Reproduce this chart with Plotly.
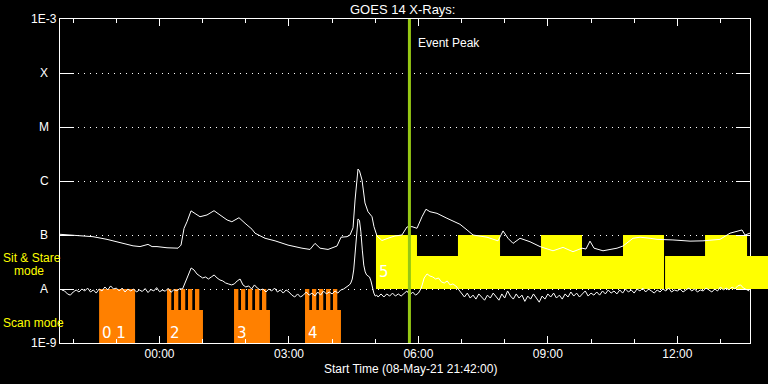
import numpy as np
import pandas as pd
import plotly.graph_objects as go

DAY0 = pd.Timestamp("2021-05-09 00:00:00")

# ---------------- data ----------------
# GOES 14 long channel (1-8 A): minutes after 00:00 UT 09-May-21, flux in nW m^-2
long_min = [-138.4, -110.5, -92.5, -73, -54.9, -36.8, -27.1, -16, -10.4, -3.5,
            10.4, 25.7, 29.9, 34.1, 38.2, 43.8, 49.4, 56.3, 66, 75.8,
            84.1, 93.9, 100.6, 110.5, 118.9, 128.6, 132.8, 146.7, 160.6, 178.7,
            198.1, 209.3, 216.2, 223.2, 234.3, 246.8, 252.4, 260.7, 264.9, 269.1,
            271.9, 276, 278.1, 281.6, 285.7, 289.9, 295.5, 298.2, 302.4, 309.3,
            317.7, 327.4, 337.1, 344.1, 351, 358, 365, 370.5, 376.1, 385.8,
            399.7, 410.9, 417.8, 427.6, 436, 455.4, 470.7, 477.7, 484.6, 491.6,
            501.3, 515.2, 529.1, 547.2, 561.1, 575, 587.5, 593, 598.6, 604.2,
            616.7, 636.2, 644.5, 658.4, 668.2, 682.1, 691.8, 714, 737.7, 755.7,
            779.4, 793.3, 804.4, 810, 814.2, 821]
long_nW = [103, 97, 93, 83, 72, 63, 61, 67, 61, 61,
           58, 57, 65, 133, 176, 280, 250, 218, 235, 282,
           235, 190, 176, 209, 165, 128, 108, 87, 78, 65,
           57, 54, 70, 57, 54, 62.5, 91, 93, 100, 136,
           445, 1667, 1531, 1044, 392, 270, 218, 143, 96, 79,
           87, 96, 100, 141, 143, 133, 218, 300, 270, 252,
           204, 176, 158, 124, 100, 91, 78, 119, 87, 70,
           87, 75, 61, 51, 59, 49, 57, 55, 77, 57,
           51, 57, 62.5, 87, 91, 87, 83, 81, 77, 78,
           83, 108, 119, 124, 100, 108]

# GOES 14 short channel (0.5-4 A): sample times (minutes) and flux in nW m^-2
short_min = list(range(-136, 260, 4)) + list(range(260, 306, 2)) + list(range(308, 824, 4))
short_nW = [
    # 21:44 - 00:28
    9.6, 9.2, 8.1, 7.7, 8.8, 9.6, 8.8, 10, 9.2, 10.4, 8.8, 9.6, 8.4, 10, 9.2,
    10.9, 9.6, 11.4, 10, 10.4, 9.2, 10.4, 8.8, 10, 9.2, 10, 8.8,
    9.6, 9.0, 10.2, 8.6, 9.8, 9.2, 10.6, 8.9, 9.5, 9.1, 10.3, 8.7, 9.7, 9.3, 10.1,
    # 00:32 - 02:20
    10, 13.5, 19, 24.5, 22.5, 19, 17.4, 16, 16.7, 15.3, 16.7, 18.2, 16, 14.7,
    14.1, 12.9, 12.4, 11.9, 12.4, 14.1, 15.3, 11.9, 10.9, 11.4, 10, 11.9, 10.4, 9.6,
    # 02:24 - 04:16
    10, 8.8, 10, 9.2, 10.4, 8.8, 9.6, 8.4, 9.6, 8.8, 7.7, 7.1, 8.1, 7.1, 7.7,
    8.8, 7.7, 8.4, 7.4, 8.8, 7.7, 9.2, 8.1, 8.8, 8.1, 9.2, 8.4, 9.6, 10,
    # 04:20 - 05:04 (2-min)
    10.9, 11.4, 11.9, 12.9, 15.3, 22.5, 52.5, 114, 198, 187, 114, 52.5,
    27.7, 20.7, 18.2, 17.4, 16.7, 14.1, 10, 8.4, 7.4, 7.7, 7.1,
    # 05:08 - 06:00
    8.1, 7.1, 8.1, 7.4, 8.4, 7.4, 8.1, 7.4, 8.4, 9.2, 7.7, 8.8, 7.7, 8.4,
    # 06:04 - 06:52
    10.4, 16, 19, 17.4, 16.7, 15.3, 16, 13.5, 12.9, 14.1, 11.9, 12.4, 11.4,
    # 06:56 - 13:40
    9.6, 8.1, 7.1, 8.4, 6.8, 7.7, 6.5, 8.1, 7.1, 6.2,
    7.7, 6.8, 8.4, 7.1, 6.2, 8.1, 6.8, 9.2, 7.4, 6.5,
    8.1, 6.8, 7.7, 5.9, 7.4, 6.5, 8.1, 6.8, 5.7, 7.4,
    6.5, 8.1, 7.1, 8.4, 6.8, 7.7, 6.5, 8.1, 7.1, 8.8,
    7.4, 8.4, 7.1, 8.1, 9.2, 7.4, 8.4, 7.7, 8.8, 7.7,
    9.2, 8.1, 9.6, 8.4, 9.2, 8.1, 9.6, 8.4, 10, 8.8,
    9.6, 8.4, 10, 9.2, 10.4, 8.8, 10, 9.2, 8.4, 9.6,
    8.8, 10, 9.2, 10.4, 8.8, 9.6, 9.2, 10, 8.8, 9.6,
    10.4, 9.2, 10, 8.8, 9.6, 9.2, 10.4, 9.6, 8.8, 10,
    9.2, 10.9, 9.6, 10.4, 9.6, 10.9, 10, 11.4, 11.9, 10.4,
    9.6, 9.2,
]

# Y tick levels and labels
y_tick_vals = [1e-9, 1e-8, 1e-7, 1e-6, 1e-5, 1e-4, 1e-3]
y_tick_text = ["1E-9", "A", "B", "C", "M", "X", "1E-3"]

# Scan mode blocks (start minute, duration, full block or comb)
scan_start = [-84, 10.4, 103.6, 202.3]
scan_dur = [50, 50, 50, 50]
scan_full = [True, False, False, False]
scan_label = ["0 1", "2", "3", "4"]
tooth_offset = [0, 9.7, 19.4, 29.2, 38.9]
tooth_width = 6
scan_base, scan_low, scan_top = 1e-9, 4.08e-9, 1e-8

# Sit & Stare blocks
ss_start = [301, 358, 415, 473.5, 530.5, 587.5, 644.5, 703, 758.6, 817]
ss_end = [358, 415, 473.5, 530.5, 587.5, 644.5, 701.5, 758.6, 817, 880]
ss_top = [1e-7, 4.08e-8, 1e-7, 4.08e-8, 1e-7, 4.08e-8, 1e-7, 4.08e-8, 1e-7, 4.08e-8]
ss_base = 1e-8
ss_label = "5"

peak_min = 347.5
x_range_min = [-138.4, 821.1]

# ---------------- helpers ----------------
def T(m):
    return DAY0 + pd.Timedelta(minutes=float(m))

def rects(starts, ends, bottoms, tops):
    xs, ys = [], []
    for a, b, lo, hi in zip(starts, ends, bottoms, tops):
        xs += [T(a), T(a), T(b), T(b), T(a), None]
        ys += [lo, hi, hi, lo, lo, None]
    return xs, ys

# scan polygons
sc_s, sc_e, sc_lo, sc_hi = [], [], [], []
for s, d, full in zip(scan_start, scan_dur, scan_full):
    if full:
        sc_s.append(s); sc_e.append(s + d); sc_lo.append(scan_base); sc_hi.append(scan_top)
    else:
        sc_s.append(s); sc_e.append(s + d); sc_lo.append(scan_base); sc_hi.append(scan_low)
        for o in tooth_offset:
            sc_s.append(s + o); sc_e.append(s + o + tooth_width)
            sc_lo.append(scan_base); sc_hi.append(scan_top)
scan_x, scan_y = rects(sc_s, sc_e, sc_lo, sc_hi)
ss_x, ss_y = rects(ss_start, ss_end, [ss_base] * len(ss_start), ss_top)

FONT = "Liberation Sans"
WHITE = "#ffffff"
YEL = "#ffff00"
ORANGE = "#ff8000"

fig = go.Figure()
fig.add_trace(go.Scatter(x=ss_x, y=ss_y, mode="lines", fill="toself",
                         fillcolor=YEL, line=dict(width=0, color=YEL)))
fig.add_trace(go.Scatter(x=scan_x, y=scan_y, mode="lines", fill="toself",
                         fillcolor=ORANGE, line=dict(width=0, color=ORANGE)))
fig.add_trace(go.Scatter(x=[T(m) for m in long_min], y=[v * 1e-9 for v in long_nW],
                         mode="lines", line=dict(color=WHITE, width=1)))
fig.add_trace(go.Scatter(x=[T(m) for m in short_min], y=[v * 1e-9 for v in short_nW],
                         mode="lines", line=dict(color=WHITE, width=1)))
fig.add_trace(go.Scatter(x=[T(peak_min), T(peak_min)], y=[y_tick_vals[0], y_tick_vals[-1]],
                         mode="lines", line=dict(color="#96c814", width=3)))

ann = []
lo_log, hi_log = np.log10(y_tick_vals[0]), np.log10(y_tick_vals[-1])
for v, txt in zip(y_tick_vals, y_tick_text):
    ann.append(dict(x=-16 / 690, xref="paper", y=np.log10(v), yref="y", text=txt,
                    showarrow=False, xanchor="center", yanchor="middle",
                    font=dict(family=FONT, size=12, color=WHITE)))
for s, lab in zip(scan_start, scan_label):
    ann.append(dict(x=T(s), xref="x", y=10 / 324, yref="paper", text=lab, xshift=1,
                    showarrow=False, xanchor="left", yanchor="middle",
                    font=dict(family="DejaVu Sans", size=15, color=WHITE)))
ann.append(dict(x=T(ss_start[0]), xref="x", y=71 / 324, yref="paper", text=ss_label, xshift=1,
                showarrow=False, xanchor="left", yanchor="middle",
                font=dict(family="DejaVu Sans", size=15, color=WHITE)))
ann.append(dict(x=T(peak_min), xref="x", y=300 / 324, yref="paper", text="Event Peak", xshift=7,
                showarrow=False, xanchor="left", yanchor="middle",
                font=dict(family=FONT, size=12, color=WHITE)))
ann.append(dict(x=-59 / 690, xref="paper", y=85 / 324, yref="paper", text="Sit & Stare",
                showarrow=False, xanchor="left", yanchor="middle",
                font=dict(family=FONT, size=12, color=YEL)))
ann.append(dict(x=-48 / 690, xref="paper", y=72 / 324, yref="paper", text="mode",
                showarrow=False, xanchor="left", yanchor="middle",
                font=dict(family=FONT, size=12, color=YEL)))
ann.append(dict(x=-59 / 690, xref="paper", y=20 / 324, yref="paper", text="Scan mode",
                showarrow=False, xanchor="left", yanchor="middle",
                font=dict(family=FONT, size=12, color=YEL)))
ann.append(dict(x=351 / 690, xref="paper", y=-25.5 / 324, yref="paper",
                text="Start Time (08-May-21 21:42:00)",
                showarrow=False, xanchor="center", yanchor="middle",
                font=dict(family=FONT, size=12, color=WHITE)))
ann.append(dict(x=342 / 690, xref="paper", y=333.5 / 324, yref="paper",
                text="GOES 14 X-Rays:",
                showarrow=False, xanchor="center", yanchor="middle",
                font=dict(family=FONT, size=13, color=WHITE)))

# yellow overflow past the right axis (sit & stare polyfill is not clipped)
last_lo = (np.log10(ss_base) - lo_log) / (hi_log - lo_log)
last_hi = (np.log10(ss_top[-1]) - lo_log) / (hi_log - lo_log)
shapes = [dict(type="rect", xref="paper", yref="paper", x0=1.0, x1=1.05,
               y0=last_lo, y1=last_hi, fillcolor=YEL, line=dict(width=0), layer="above")]

fig.update_layout(
    width=768, height=384,
    margin=dict(l=60, r=18, t=19, b=41),
    paper_bgcolor="black", plot_bgcolor="black",
    showlegend=False, hovermode=False,
    annotations=ann, shapes=shapes,
    font=dict(family=FONT, color=WHITE, size=12),
)
fig.update_xaxes(
    type="date", range=[T(x_range_min[0]), T(x_range_min[1])],
    tickformat="%H:%M", dtick=3 * 3600 * 1000, tick0="2021-05-09 00:00:00",
    ticks="inside", ticklen=7, tickcolor=WHITE, tickwidth=1,
    minor=dict(dtick=3600 * 1000, ticks="inside", ticklen=4, tickcolor=WHITE, showgrid=False),
    showline=True, linecolor=WHITE, linewidth=1, mirror="ticks",
    showgrid=False, zeroline=False,
    tickfont=dict(family=FONT, size=12, color=WHITE),
)
fig.update_yaxes(
    type="log", range=[lo_log, hi_log],
    tickvals=y_tick_vals, showticklabels=False,
    ticks="inside", ticklen=14, tickcolor=WHITE, tickwidth=1,
    showline=True, linecolor=WHITE, linewidth=1, mirror="ticks",
    showgrid=True, gridcolor=WHITE, gridwidth=1, griddash="1px,5px",
    zeroline=False,
)

fig.write_html("out.html")
